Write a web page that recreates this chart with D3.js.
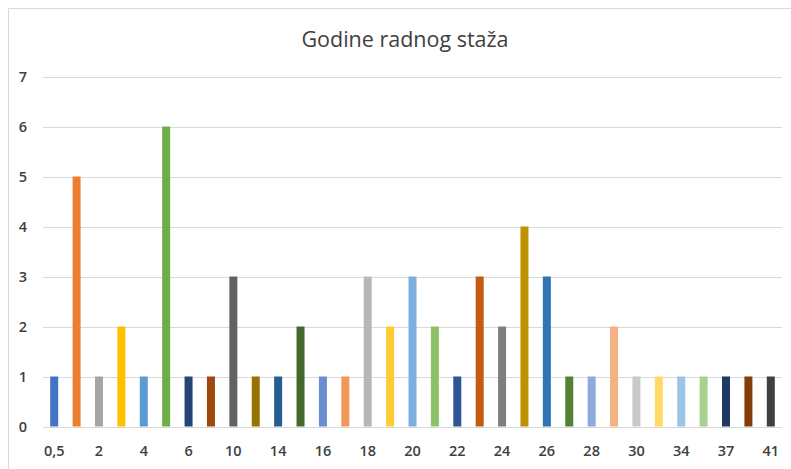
<!DOCTYPE html>
<html>
<head>
<meta charset="utf-8">
<script src="https://cdn.jsdelivr.net/npm/d3@7"></script>
<style>
  body { margin: 0; background: #fff; }
  svg { display: block; }
</style>
</head>
<body>
<div id="container"></div>
<script>
let w = 791;
let h = 469;

// data
let categories = ["0,5","1","2","3","4","5","6","8","10","12","14","15","16","17","18","19","20","21","22","23","24","25","26","27","28","29","30","32","34","35","37","38","41"];
let counts = [1,5,1,2,1,6,1,1,3,1,1,2,1,1,3,2,3,2,1,3,2,4,3,1,1,2,1,1,1,1,1,1,1];
let yTicks = [0,1,2,3,4,5,6,7];
let colors = ["#4472C4","#ED7D31","#A5A5A5","#FFC000","#5B9BD5","#70AD47",
  "#264478","#9E480E","#636363","#997300","#255E91","#43682B",
  "#698ED0","#F1975A","#B7B7B7","#FFCD33","#7CAFDD","#8CC168",
  "#2F5597","#C55A11","#7F7F7F","#BF9000","#2E75B6","#538135",
  "#8FAADC","#F4B183","#C9C9C9","#FFD966","#9DC3E6","#A9D18E",
  "#203864","#843C0C","#404040"];

let margin = {left: 43, right: 9, top: 76.5, bottom: 42.5};

let viz = d3.select("#container").append("svg")
  .attr("width", w)
  .attr("height", h);

// chart border (left + top visible)
viz.append("path")
  .attr("d", "M8.5," + h + "V8.5H" + w)
  .attr("fill", "none")
  .attr("stroke", "#d9d9d9")
  .attr("stroke-width", 1);

let x = d3.scaleBand()
  .domain(categories)
  .range([margin.left, w - margin.right]);

let y = d3.scaleLinear()
  .domain([0, 7])
  .range([h - margin.bottom, margin.top]);

// gridlines
viz.append("g")
  .selectAll("line").data(yTicks).enter()
  .append("line")
  .attr("x1", margin.left)
  .attr("x2", w - margin.right)
  .attr("y1", d => Math.round(y(d)) + 0.5)
  .attr("y2", d => Math.round(y(d)) + 0.5)
  .attr("stroke", "#d9d9d9")
  .attr("stroke-width", 1);

// bars
let barW = 8;
viz.append("g")
  .selectAll("rect").data(counts).enter()
  .append("rect")
  .attr("x", (d, i) => x(categories[i]) + x.bandwidth() / 2 - barW / 2)
  .attr("y", d => y(d))
  .attr("width", barW)
  .attr("height", d => y(0) - y(d))
  .attr("fill", (d, i) => colors[i % colors.length]);

// y axis labels
let yAxis = d3.axisLeft(y).tickValues(yTicks).tickFormat(d3.format("d")).tickSize(0).tickPadding(0);
viz.append("g")
  .attr("transform", "translate(27,0)")
  .call(yAxis)
  .call(g => g.select(".domain").remove())
  .selectAll("text")
  .attr("font-family", "Open Sans, sans-serif")
  .style("font-size", "14.5px")
  .attr("font-weight", 600)
  .attr("fill", "#404040");

// x axis labels, every other category
let xAxis = d3.axisBottom(x)
  .tickValues(categories.filter((d, i) => i % 2 === 0))
  .tickSize(0).tickPadding(0);
viz.append("g")
  .attr("transform", "translate(0," + (h - 23) + ")")
  .call(xAxis)
  .call(g => g.select(".domain").remove())
  .selectAll("text")
  .attr("font-family", "Open Sans, sans-serif")
  .style("font-size", "14.5px")
  .attr("font-weight", 600)
  .attr("fill", "#404040");

// title
viz.append("text")
  .attr("x", 405)
  .attr("y", 47)
  .attr("text-anchor", "middle")
  .attr("font-family", "Open Sans, sans-serif")
  .attr("font-size", 21.5)
  .attr("fill", "#404040")
  .text("Godine radnog staža");
</script>
</body>
</html>
